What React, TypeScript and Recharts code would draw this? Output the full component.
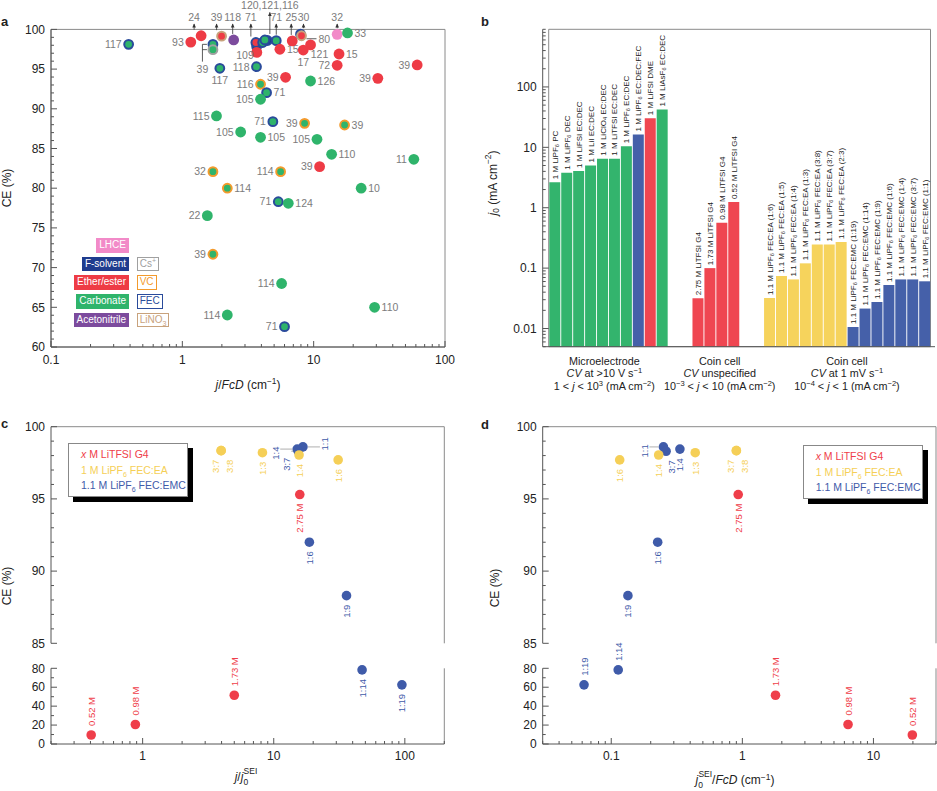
import React from 'react';
import {
  ScatterChart,
  Scatter,
  BarChart,
  Bar,
  XAxis,
  YAxis,
  Cell,
  LabelList,
  ReferenceArea,
  ReferenceLine,
} from 'recharts';

const FONT = '"Liberation Sans", Arial, Helvetica, sans-serif';
const AXIS = '#555';
const FRAME = '#8a8a8a';
const TEXT = '#222';
const GREY_LABEL = '#7c7c7c';
const LEADER = '#333';

// ---------- panel a : CE vs j/FcD (literature survey) ----------
const aX = [
  0.39, 1.16, 1.39, 1.71, 1.71, 1.99, 2.46, 3.68, 3.63, 3.69, 4.09, 4.45, 4.25, 5.19, 5.53, 6.87,
  7.94, 8.08, 8.33, 9.47, 15.1, 18.1, 15.6, 15.1, 61.4, 30.8, 9.47, 6.11, 1.93, 3.67, 3.94, 4.38,
  3.94, 1.82, 4.89, 8.53, 17.2, 2.78, 3.94, 10.6, 13.7, 57.9, 11.1, 1.71, 5.6, 2.2, 23.0, 5.38,
  6.41, 1.55, 1.71, 5.7, 29.1, 2.2, 6.0,
];
const aCE = [
  98.12, 98.4, 99.2, 98.12, 97.45, 99.15, 98.67, 97.85, 98.35, 97.1, 98.35, 98.6, 98.67, 98.58,
  97.5, 98.55, 99.4, 99.2, 97.4, 98.05, 99.38, 99.55, 96.9, 95.48, 95.52, 93.84, 93.5, 93.97, 95.1,
  95.3, 93.09, 92.03, 91.2, 89.1, 88.38, 88.17, 87.96, 87.08, 86.41, 86.16, 84.27, 83.64, 82.71,
  82.08, 82.08, 80.0, 80.0, 78.3, 78.1, 76.54, 71.68, 68.0, 65.0, 64.03, 62.56,
];
const aRef = [
  '117', '93', '24', '', '39', '39', '118', '', '71', '109', '', '', '120,121,116', '71', '15', '25',
  '30', '80', '17', '121', '32', '33', '15', '72', '39', '39', '126', '39', '117', '118', '116', '71',
  '105', '115', '71', '39', '39', '105', '105', '105', '110', '11', '39', '32', '114', '114', '10',
  '71', '124', '22', '39', '114', '110', '114', '71',
];
// L LHCE, F F-solvent, E ether/ester, C carbonate, A acetonitrile
const aSolvent = [
  'C', 'E', 'E', 'C', 'C', 'E', 'A', 'F', 'E', 'E', 'C', 'F', 'C', 'C', 'E', 'E', 'F', 'E', 'E',
  'E', 'L', 'C', 'E', 'E', 'E', 'E', 'C', 'E', 'C', 'C', 'C', 'C', 'C', 'C', 'C', 'C', 'C', 'C',
  'C', 'C', 'C', 'C', 'E', 'C', 'C', 'C', 'C', 'C', 'C', 'C', 'C', 'C', 'C', 'C', 'C',
];
const aAdditive = [
  'FEC', '', '', 'FEC', 'Cs', 'LiNO3', '', 'FEC', 'FEC', '', 'FEC', 'FEC', 'FEC', 'FEC', '', '',
  'FEC', 'LiNO3', '', '', '', '', '', '', '', '', '', '', 'FEC', 'FEC', 'VC', 'FEC', '', '', 'FEC',
  'VC', 'VC', '', '', '', '', '', '', 'VC', 'VC', 'VC', '', 'FEC', '', '', 'VC', '', '', '', 'FEC',
];
// where each reference number is written (layout only)
const aLabelPos = [
  'l', 'l', 't', '', 'B', 't', 't', '', 't', 'lb', '', '', 'T', 't', 'r', 't', 't', 'R', 'b', 'br',
  't', 'r', 'r', 'l', 'l', 'l', 'r', 'l', 'b', 'l', 'l', 'r', 'l', 'l', 'l', 'l', 'r', 'l', 'r', 'l',
  'r', 'l', 'l', 'l', 'l', 'r', 'r', 'l', 'r', 'l', 'l', 'l', 'r', 'l', 'l',
];
// horizontal nudges of the top call-outs (layout only)
const aLabelDx: Record<number, number> = { 2: -7, 5: -5, 6: -1, 8: -5, 12: 5, 15: -1, 16: 3 };

const SOLVENT_COLOR: Record<string, string> = {
  L: '#f28ac8',
  F: '#1f3c8e',
  E: '#ee3b45',
  C: '#2fb46b',
  A: '#7c4b9d',
};
const ADDITIVE_COLOR: Record<string, string> = {
  Cs: '#a0a0a0',
  VC: '#f39a2c',
  FEC: '#2a4b9b',
  LiNO3: '#c8a27c',
};
const solventLegend = [
  { name: 'LHCE', color: SOLVENT_COLOR.L },
  { name: 'F-solvent', color: SOLVENT_COLOR.F },
  { name: 'Ether/ester', color: SOLVENT_COLOR.E },
  { name: 'Carbonate', color: SOLVENT_COLOR.C },
  { name: 'Acetonitrile', color: SOLVENT_COLOR.A },
];
const additiveLegend = ['Cs', 'VC', 'FEC', 'LiNO3'];

const aData = aX.map((x, i) => ({
  x,
  y: aCE[i],
  ref: aRef[i],
  solvent: aSolvent[i],
  additive: aAdditive[i],
  pos: aLabelPos[i],
  dx: aLabelDx[i] ?? 0,
}));

// ---------- panel b : exchange current density ----------
const microLabels = [
  '1 M LiPF_{6} PC',
  '1 M LiPF_{6} DEC',
  '1 M LiFSI EC:DEC',
  '1 M LiI EC:DEC',
  '1 M LiClO_{4} EC:DEC',
  '1 M LiTFSI EC:DEC',
  '1 M LiPF_{6} EC:DEC',
  '1 M LiPF_{6} EC:DEC:FEC',
  '1 M LiFSI DME',
  '1 M LiAsF_{6} EC:DEC',
];
const microJ0 = [2.65, 3.8, 4.05, 5.0, 6.5, 6.5, 10.4, 16.3, 30.3, 42.2];
const microColor = ['g', 'g', 'g', 'g', 'g', 'g', 'g', 'b', 'r', 'g'];
const coinLabels = ['2.75 M LiTFSI G4', '1.73 M LiTFSI G4', '0.98 M LiTFSI G4', '0.52 M LiTFSI G4'];
const coinJ0 = [0.0317, 0.1, 0.565, 1.24];
const eaLabelsB = ['(1:6)', '(1:5)', '(1:4)', '(1:3)', '(3:8)', '(3:7)', '(2:3)'];
const eaJ0 = [0.032, 0.074, 0.065, 0.12, 0.247, 0.247, 0.27];
const emcLabelsB = ['(1:19)', '(1:14)', '(1:9)', '(1:6)', '(1:4)', '(3:7)', '(1:1)'];
const emcJ0 = [0.0106, 0.0214, 0.0275, 0.0526, 0.065, 0.065, 0.0605];

const BAR_COLOR: Record<string, string> = {
  g: '#33b46d',
  b: '#4560a9',
  r: '#ef4651',
  y: '#f6d35c',
};

type BRow = { id: string; v: number | null; label: string; c: string };
const gap = (id: string): BRow => ({ id, v: null, label: '', c: 'g' });
const bData: BRow[] = [
  ...microLabels.map((l, i) => ({ id: `m${i}`, v: microJ0[i], label: l, c: microColor[i] })),
  gap('s1'),
  gap('s2'),
  ...coinLabels.map((l, i) => ({ id: `c${i}`, v: coinJ0[i], label: l, c: 'r' })),
  gap('s3'),
  gap('s4'),
  ...eaLabelsB.map((l, i) => ({ id: `e${i}`, v: eaJ0[i], label: `1.1 M LiPF_{6} FEC:EA ${l}`, c: 'y' })),
  ...emcLabelsB.map((l, i) => ({ id: `f${i}`, v: emcJ0[i], label: `1.1 M LiPF_{6} FEC:EMC ${l}`, c: 'b' })),
];

const bGroups = [
  { start: 0, n: 10, dx: -4, lines: ['Microelectrode', '*CV* at >10 V s^{−1}', '1 < *j* < 10^{3} (mA cm^{−2})'] },
  { start: 12, n: 4, dx: 4, lines: ['Coin cell', '*CV* unspecified', '10^{−3} < *j* < 10 (mA cm^{−2})'] },
  { start: 18, n: 14, dx: 0, lines: ['Coin cell', '*CV* at 1 mV s^{−1}', '10^{−4} < *j* < 1 (mA cm^{−2})'] },
];

// ---------- panels c, d : CE vs normalised current ----------
const redNames = ['2.75 M', '1.73 M', '0.98 M', '0.52 M'];
const redCE = [95.3, 51.5, 20.6, 9.5];
const redXc = [15.8, 5.0, 0.88, 0.405];
const redXd = [0.93, 1.79, 6.4, 19.8];

const eaNames = ['3:7', '3:8', '1:3', '1:4', '1:6'];
const eaCE = [98.34, 98.34, 98.2, 98.04, 97.7];
const eaXc = [3.97, 3.97, 8.2, 15.6, 31];
const eaXd = [0.9, 0.9, 0.437, 0.23, 0.116];

const emcNames = ['1:1', '3:7', '1:4', '1:6', '1:9', '1:14', '1:19'];
const emcCE = [98.6, 98.3, 98.45, 92.0, 88.3, 78.3, 62.5];
const emcXc = [16.7, 15.4, 15.1, 18.7, 35.9, 47.2, 95];
const emcXd = [0.25, 0.262, 0.334, 0.226, 0.134, 0.113, 0.062];

const C_RED = '#ef3e4a';
const C_YEL = '#f5cf57';
const C_BLUE = '#3f5ba9';

// label placement (layout only): b = below, a = above, m = beside
type Place = { p: string; dx?: number; dy?: number };
const cPlace: Record<string, Place[]> = {
  red: [{ p: 'b' }, { p: 'a' }, { p: 'a' }, { p: 'a' }],
  ea: [{ p: 'b', dx: -6 }, { p: 'b', dx: 8 }, { p: 'b' }, { p: 'b' }, { p: 'b' }],
  emc: [
    { p: 'm', dx: 22, dy: -3 },
    { p: 'm', dx: -12, dy: 13 },
    { p: 'm', dx: -22, dy: 4 },
    { p: 'b' },
    { p: 'b' },
    { p: 'b' },
    { p: 'b' },
  ],
};
const dPlace: Record<string, Place[]> = {
  red: [{ p: 'b' }, { p: 'a' }, { p: 'a' }, { p: 'a' }],
  ea: [{ p: 'b', dx: -6 }, { p: 'b', dx: 8 }, { p: 'b' }, { p: 'b' }, { p: 'b' }],
  emc: [
    { p: 'm', dx: -19, dy: 4 },
    { p: 'b', dx: 5 },
    { p: 'b' },
    { p: 'b' },
    { p: 'b' },
    { p: 'a' },
    { p: 'a' },
  ],
};

const buildSeries = (xs: number[], ys: number[], names: string[], color: string, place: Place[]) =>
  xs.map((x, i) => ({ x, y: ys[i], name: names[i], color, place: place[i] }));

const cSeries = [
  buildSeries(redXc, redCE, redNames, C_RED, cPlace.red),
  buildSeries(emcXc, emcCE, emcNames, C_BLUE, cPlace.emc),
  buildSeries(eaXc, eaCE, eaNames, C_YEL, cPlace.ea),
];
const dSeries = [
  buildSeries(redXd, redCE, redNames, C_RED, dPlace.red),
  buildSeries(emcXd, emcCE, emcNames, C_BLUE, dPlace.emc),
  buildSeries(eaXd, eaCE, eaNames, C_YEL, dPlace.ea),
];

// ---------- axis ticks ----------
const minorLog = (lo: number, hi: number) => {
  const out: number[] = [];
  for (let d = 0.001; d < 1000; d *= 10) {
    for (let k = 2; k <= 9; k++) {
      const v = +(d * k).toPrecision(6);
      if (v >= lo * 0.999 && v <= hi * 1.001) out.push(v);
    }
  }
  return out;
};
const linTicks = (lo: number, hi: number, step: number) => {
  const out: number[] = [];
  for (let v = lo; v <= hi; v += step) out.push(v);
  return out;
};

const aXMajor = [0.1, 1, 10, 100];
const aYMajor = [60, 65, 70, 75, 80, 85, 90, 95, 100];
const bYMajor = [0.01, 0.1, 1, 10, 100];
const cXMajor = [1, 10, 100];
const dXMajor = [0.1, 1, 10];
const upMajor = [85, 90, 95, 100];
const lowMajor = [0, 20, 40, 60, 80];

const isMajor = (majors: number[], v: number) =>
  majors.some((m) => Math.abs(m - v) <= 1e-9 * Math.max(1, Math.abs(m)));

const makeXTick = (majors: number[], labelDy: number) => (props: any) => {
  const { x, y, payload } = props;
  const major = isMajor(majors, payload.value);
  return (
    <g>
      <line x1={x} x2={x} y1={y} y2={y - (major ? 6 : 3)} stroke={AXIS} />
      {major && (
        <text x={x} y={y + labelDy} textAnchor="middle" fontSize={12} fill={TEXT} fontFamily={FONT}>
          {String(payload.value)}
        </text>
      )}
    </g>
  );
};
const makeYTick = (majors: number[]) => (props: any) => {
  const { x, y, payload } = props;
  const major = isMajor(majors, payload.value);
  return (
    <g>
      <line x1={x} x2={x + (major ? 6 : 3)} y1={y} y2={y} stroke={AXIS} />
      {major && (
        <text x={x - 6} y={y} dy="0.35em" textAnchor="end" fontSize={12} fill={TEXT} fontFamily={FONT}>
          {String(payload.value)}
        </text>
      )}
    </g>
  );
};

// tiny markup: *italic*, ^{sup}, _{sub}
function rich(s: string, fs: number) {
  const out: React.ReactNode[] = [];
  const re = /\^\{([^}]*)\}|_\{([^}]*)\}|\*([^*]*)\*/g;
  let cur = 0;
  let last = 0;
  let k = 0;
  let m: RegExpExecArray | null;
  const seg = (text: string, off: number, extra: any = {}) => {
    if (!text) return;
    out.push(
      <tspan key={k++} dy={off - cur} {...extra}>
        {text}
      </tspan>
    );
    cur = off;
  };
  while ((m = re.exec(s))) {
    seg(s.slice(last, m.index), 0);
    if (m[1] !== undefined) seg(m[1], -fs * 0.38, { fontSize: fs * 0.7 });
    else if (m[2] !== undefined) seg(m[2], fs * 0.25, { fontSize: fs * 0.7 });
    else seg(m[3], 0, { fontStyle: 'italic' });
    last = re.lastIndex;
  }
  seg(s.slice(last), 0);
  return out;
}

// ---------- shapes ----------
const A_TOP = 29.4;

const APoint = (p: any) => {
  const { cx, cy, payload: d } = p;
  if (!Number.isFinite(cx) || !Number.isFinite(cy)) return null;
  const fill = SOLVENT_COLOR[d.solvent];
  const ring = d.additive ? ADDITIVE_COLOR[d.additive] : undefined;
  const t = (x: number, y: number, anchor: string) => (
    <text x={x} y={y} textAnchor={anchor as any} fontSize={10.5} fill={GREY_LABEL} fontFamily={FONT}>
      {d.ref}
    </text>
  );
  let lab: React.ReactNode = null;
  switch (d.pos) {
    case 'l':
      lab = t(cx - 7, cy + 3.8, 'end');
      break;
    case 'r':
      lab = t(cx + 7, cy + 3.8, 'start');
      break;
    case 'b':
      lab = t(cx, cy + 16, 'middle');
      break;
    case 'br':
      lab = t(cx + 9, cy + 13, 'middle');
      break;
    case 'lb':
      lab = t(cx - 3, cy + 6.5, 'end');
      break;
    case 'R':
      lab = (
        <g>
          <line x1={cx + 5} x2={cx + 15} y1={cy + 3} y2={cy + 3} stroke={LEADER} strokeWidth={0.8} />
          {t(cx + 17, cy + 7, 'start')}
        </g>
      );
      break;
    case 'B':
      lab = (
        <g>
          <path
            d={`M${cx - 6} ${cy - 5.3}H${cx - 10.5}V${cy + 12}M${cx - 10.5} ${cy}H${cx - 6}`}
            stroke={LEADER}
            strokeWidth={0.8}
            fill="none"
          />
          {t(cx - 10.5, cy + 23, 'middle')}
        </g>
      );
      break;
    case 't':
    case 'T': {
      const ty = d.pos === 't' ? A_TOP - 8.4 : A_TOP - 20;
      const lx = cx + d.dx;
      lab = (
        <g>
          <line x1={lx} x2={lx} y1={ty + 3} y2={cy - 6} stroke={LEADER} strokeWidth={0.8} />
          <path d={`M${lx - 1.8} ${ty + 6.5}L${lx} ${ty + 2.5}L${lx + 1.8} ${ty + 6.5}Z`} fill={LEADER} />
          {t(lx, ty, 'middle')}
        </g>
      );
      break;
    }
    default:
      break;
  }
  return (
    <g>
      {ring ? (
        <circle cx={cx} cy={cy} r={4.4} fill={fill} stroke={ring} strokeWidth={2} />
      ) : (
        <circle cx={cx} cy={cy} r={5.4} fill={fill} />
      )}
      {lab}
    </g>
  );
};

const CEPoint = (p: any) => {
  const { cx, cy, payload: d } = p;
  if (!Number.isFinite(cx) || !Number.isFinite(cy)) return null;
  const pl: Place = d.place || { p: 'b' };
  const dx = pl.dx ?? 0;
  const dy = pl.dy ?? 0;
  const tx = cx + dx;
  let ty = cy;
  let anchor = 'middle';
  if (pl.p === 'b') {
    ty = cy + 9;
    anchor = 'end';
  } else if (pl.p === 'a') {
    ty = cy - 9;
    anchor = 'start';
  } else {
    ty = cy + dy;
  }
  const leader =
    pl.p === 'm' ? (
      <line
        x1={dx < 0 ? tx + 5 : cx + 5}
        x2={dx < 0 ? cx - 5 : tx - 5}
        y1={cy}
        y2={cy}
        stroke="#9a9a9a"
        strokeWidth={0.8}
      />
    ) : null;
  return (
    <g>
      <circle cx={cx} cy={cy} r={4.8} fill={d.color} />
      {leader}
      <text
        x={tx}
        y={ty}
        transform={`rotate(-90 ${tx} ${ty})`}
        textAnchor={anchor as any}
        dominantBaseline="central"
        fontSize={9.5}
        fill={d.color}
        fontFamily={FONT}
      >
        {d.name}
      </text>
    </g>
  );
};

const BarLabel = (props: any) => {
  const vb = props.viewBox || {};
  const bx = vb.x ?? props.x;
  const by = vb.y ?? props.y;
  const bw = vb.width ?? props.width;
  const text = props.value ?? (bData[props.index] && bData[props.index].label);
  if (!text || !Number.isFinite(bx) || !Number.isFinite(by)) return null;
  const x = bx + bw / 2;
  const y = by - 3;
  return (
    <text
      x={x}
      y={y}
      transform={`rotate(-90 ${x} ${y})`}
      fontSize={8}
      fill={TEXT}
      fontFamily={FONT}
      dominantBaseline="central"
    >
      {rich(text, 8)}
    </text>
  );
};

const BGroupTick = (props: any) => {
  const { x, y, payload } = props;
  const g = bGroups.find((gr) => gr.start === payload.index);
  if (!g) return null;
  const half = payload.offset && payload.offset > 1 ? payload.offset : 5.97;
  const cx = x + (g.n - 1) * half + g.dx;
  return (
    <g>
      {g.lines.map((ln, i) => (
        <text key={i} x={cx} y={y + 18 + i * 12.7} textAnchor="middle" fontSize={10.8} fill={TEXT} fontFamily={FONT}>
          {rich(ln, 10.8)}
        </text>
      ))}
    </g>
  );
};

// ---------- panels ----------
const PanelA = () => (
  <div style={{ position: 'absolute', left: 0, top: 0 }}>
    <ScatterChart width={460} height={400} margin={{ top: 29.4, right: 15, bottom: 0, left: 0 }}>
      <XAxis
        type="number"
        dataKey="x"
        scale="log"
        domain={[0.1, 100]}
        ticks={[...aXMajor, ...minorLog(0.1, 100)].sort((p, q) => p - q)}
        interval={0}
        tickSize={0}
        tickMargin={0}
        tickLine={false}
        axisLine={{ stroke: AXIS }}
        tick={makeXTick(aXMajor, 17)}
        height={53}
      />
      <YAxis
        type="number"
        dataKey="y"
        domain={[60, 100]}
        ticks={linTicks(60, 100, 1)}
        interval={0}
        tickSize={0}
        tickMargin={0}
        tickLine={false}
        axisLine={{ stroke: AXIS }}
        tick={makeYTick(aYMajor)}
        width={51}
      />
      <ReferenceArea y1={60} y2={100} fill="none" stroke={FRAME} />
      <Scatter data={aData} shape={APoint} isAnimationActive={false} />
    </ScatterChart>
  </div>
);

const PanelB = () => (
  <div style={{ position: 'absolute', left: 460, top: 0 }}>
    <BarChart
      width={477}
      height={400}
      data={bData}
      margin={{ top: 29.3, right: 2, bottom: 0, left: 0 }}
      barCategoryGap="5%"
    >
      <XAxis
        dataKey="id"
        type="category"
        interval={0}
        tickSize={0}
        tickMargin={0}
        tickLine={false}
        axisLine={{ stroke: AXIS }}
        tick={BGroupTick}
        height={53.3}
        padding={{ left: 6, right: 4.5 }}
      />
      <YAxis
        type="number"
        scale="log"
        domain={[0.005, 900]}
        ticks={[...bYMajor, ...minorLog(0.005, 900)].sort((p, q) => p - q)}
        interval={0}
        tickSize={0}
        tickMargin={0}
        tickLine={false}
        axisLine={{ stroke: AXIS }}
        tick={makeYTick(bYMajor)}
        width={82.7}
      />
      <ReferenceArea y1={0.005} y2={900} fill="none" stroke={FRAME} />
      <Bar dataKey="v" isAnimationActive={false}>
        {bData.map((d, i) => (
          <Cell key={`cell-${i}`} fill={BAR_COLOR[d.c]} />
        ))}
        <LabelList dataKey="label" content={BarLabel} />
      </Bar>
    </BarChart>
  </div>
);

type CEProps = {
  left: number;
  width: number;
  yAxisW: number;
  mr: number;
  xDomain: [number, number];
  xMajors: number[];
  series: ReturnType<typeof buildSeries>[];
};

const CEPanel = ({ left, width, yAxisW, mr, xDomain, xMajors, series }: CEProps) => {
  const xTicks = [...xMajors, ...minorLog(xDomain[0], xDomain[1])].sort((p, q) => p - q);
  return (
    <>
      <div style={{ position: 'absolute', left, top: 410 }}>
        <ScatterChart width={width} height={240} margin={{ top: 16.7, right: mr, bottom: 6.7, left: 0 }}>
          <XAxis type="number" dataKey="x" scale="log" domain={xDomain} hide />
          <YAxis
            type="number"
            dataKey="y"
            domain={[85, 100]}
            ticks={linTicks(85, 100, 1)}
            interval={0}
            tickSize={0}
            tickMargin={0}
            tickLine={false}
            axisLine={{ stroke: AXIS }}
            tick={makeYTick(upMajor)}
            width={yAxisW}
          />
          <ReferenceLine y={100} stroke={FRAME} />
          <ReferenceLine x={xDomain[1]} stroke={FRAME} />
          {series.map((s, i) => (
            <Scatter
              key={`u${i}`}
              data={s.filter((r) => r.y >= 84)}
              shape={CEPoint}
              isAnimationActive={false}
            />
          ))}
        </ScatterChart>
      </div>
      <div style={{ position: 'absolute', left, top: 635 }}>
        <ScatterChart width={width} height={156} margin={{ top: 33.3, right: mr, bottom: 0, left: 0 }}>
          <XAxis
            type="number"
            dataKey="x"
            scale="log"
            domain={xDomain}
            ticks={xTicks}
            interval={0}
            tickSize={0}
            tickMargin={0}
            tickLine={false}
            axisLine={{ stroke: AXIS }}
            tick={makeXTick(xMajors, 16)}
            height={47}
          />
          <YAxis
            type="number"
            dataKey="y"
            domain={[0, 80]}
            ticks={linTicks(0, 80, 10)}
            interval={0}
            tickSize={0}
            tickMargin={0}
            tickLine={false}
            axisLine={{ stroke: AXIS }}
            tick={makeYTick(lowMajor)}
            width={yAxisW}
          />
          <ReferenceLine x={xDomain[1]} stroke={FRAME} />
          {series.map((s, i) => (
            <Scatter
              key={`l${i}`}
              data={s.filter((r) => r.y <= 80)}
              shape={CEPoint}
              isAnimationActive={false}
            />
          ))}
        </ScatterChart>
      </div>
    </>
  );
};

const SeriesLegend = ({ left, top }: { left: number; top: number }) => (
  <div
    style={{
      position: 'absolute',
      left,
      top,
      width: 120,
      height: 54,
      boxSizing: 'border-box',
      border: '1px solid #888',
      background: '#fff',
      boxShadow: '5px 5px 0 #000',
      padding: '3px 0 0 12px',
      fontSize: 10.5,
      lineHeight: '15.5px',
      fontFamily: FONT,
      whiteSpace: 'nowrap',
    }}
  >
    <div style={{ color: C_RED }}>
      <i>x</i> M LiTFSI G4
    </div>
    <div style={{ color: C_YEL }}>
      1 M LiPF<sub style={{ fontSize: 7, lineHeight: 0 }}>6</sub> FEC:EA
    </div>
    <div style={{ color: C_BLUE }}>
      1.1 M LiPF<sub style={{ fontSize: 7, lineHeight: 0 }}>6</sub> FEC:EMC
    </div>
  </div>
);

const additiveText = (a: string) =>
  a === 'Cs' ? (
    <>
      Cs<sup style={{ fontSize: 7, lineHeight: 0 }}>+</sup>
    </>
  ) : a === 'LiNO3' ? (
    <>
      LiNO<sub style={{ fontSize: 7, lineHeight: 0 }}>3</sub>
    </>
  ) : (
    a
  );

const LegendA = () => (
  <>
    <div
      style={{
        position: 'absolute',
        left: 50,
        top: 238.3,
        width: 79,
        display: 'flex',
        flexDirection: 'column',
        alignItems: 'flex-end',
        gap: 4.1,
      }}
    >
      {solventLegend.map((s) => (
        <div
          key={s.name}
          style={{
            background: s.color,
            color: '#fff',
            fontSize: 10,
            lineHeight: '14.5px',
            height: 14.5,
            padding: '0 3px',
            fontFamily: FONT,
            whiteSpace: 'nowrap',
          }}
        >
          {s.name}
        </div>
      ))}
    </div>
    <div
      style={{
        position: 'absolute',
        left: 136.7,
        top: 256.9,
        display: 'flex',
        flexDirection: 'column',
        alignItems: 'flex-start',
        gap: 4.1,
      }}
    >
      {additiveLegend.map((a) => (
        <div
          key={a}
          style={{
            border: `1px solid ${ADDITIVE_COLOR[a]}`,
            color: ADDITIVE_COLOR[a],
            background: '#fff',
            fontSize: 10,
            lineHeight: '12.5px',
            height: 12.5,
            padding: '0 2px',
            fontFamily: FONT,
            whiteSpace: 'nowrap',
          }}
        >
          {additiveText(a)}
        </div>
      ))}
    </div>
  </>
);

const Titles = () => (
  <svg
    width={937}
    height={791}
    style={{ position: 'absolute', left: 0, top: 0, pointerEvents: 'none' }}
    fontFamily={FONT}
    fill={TEXT}
  >
    <text x={1} y={26} fontSize={13} fontWeight="bold">a</text>
    <text x={481} y={26} fontSize={13} fontWeight="bold">b</text>
    <text x={1} y={428} fontSize={13} fontWeight="bold">c</text>
    <text x={481} y={429} fontSize={13} fontWeight="bold">d</text>

    <text transform="translate(7 188) rotate(-90)" textAnchor="middle" dominantBaseline="central" fontSize={12}>
      CE (%)
    </text>
    <text x={248} y={389} textAnchor="middle" fontSize={12}>
      {rich('*j*/*FcD* (cm^{−1})', 12)}
    </text>
    <text transform="translate(493 183) rotate(-90)" textAnchor="middle" dominantBaseline="central" fontSize={12}>
      {rich('*j*_{0} (mA cm^{−2})', 12)}
    </text>

    <text transform="translate(7 586) rotate(-90)" textAnchor="middle" dominantBaseline="central" fontSize={12}>
      CE (%)
    </text>
    <text transform="translate(495 588) rotate(-90)" textAnchor="middle" dominantBaseline="central" fontSize={12}>
      CE (%)
    </text>

    <text x={246} y={781} textAnchor="middle" fontSize={12}>
      <tspan fontStyle="italic">j</tspan>
      <tspan>/</tspan>
      <tspan fontStyle="italic">j</tspan>
      <tspan dy={4} fontSize={8.5}>0</tspan>
      <tspan dx={-4.5} dy={-11} fontSize={8.5}>SEI</tspan>
    </text>
    <text x={735} y={784} textAnchor="middle" fontSize={12}>
      <tspan fontStyle="italic">j</tspan>
      <tspan dy={4} fontSize={8.5}>0</tspan>
      <tspan dx={-4.5} dy={-11} fontSize={8.5}>SEI</tspan>
      <tspan dy={7}>/</tspan>
      <tspan fontStyle="italic">FcD</tspan>
      <tspan> (cm</tspan>
      <tspan dy={-4.5} fontSize={8.5}>−1</tspan>
      <tspan dy={4.5}>)</tspan>
    </text>
  </svg>
);

export default function App() {
  return (
    <div
      style={{
        position: 'absolute',
        left: 0,
        top: 0,
        width: 937,
        height: 791,
        background: '#fff',
        fontFamily: FONT,
        overflow: 'hidden',
      }}
    >
      <PanelA />
      <PanelB />
      <CEPanel left={0} width={460} yAxisW={51} mr={15.7} xDomain={[0.2, 200]} xMajors={cXMajor} series={cSeries} />
      <CEPanel left={460} width={477} yAxisW={82.7} mr={1} xDomain={[0.03, 30]} xMajors={dXMajor} series={dSeries} />
      <LegendA />
      <SeriesLegend left={68} top={443.3} />
      <SeriesLegend left={802.7} top={445} />
      <Titles />
    </div>
  );
}
